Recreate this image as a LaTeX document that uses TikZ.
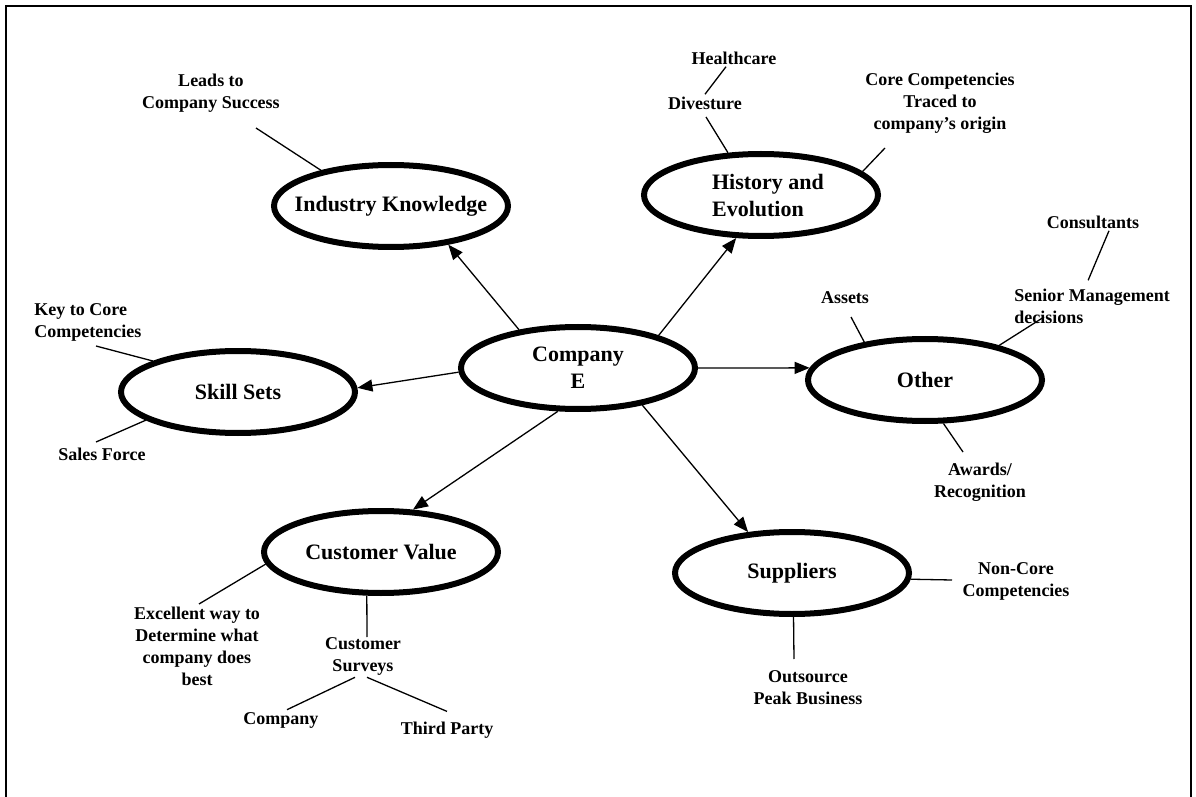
\documentclass[tikz,border=0pt]{standalone}
\usepackage{fontspec}
\setmainfont{Liberation Serif}
\usetikzlibrary{shapes.geometric,arrows.meta}

\begin{document}
\begin{tikzpicture}[x=0.5pt,y=-0.5pt,
        bubble/.style={draw,ellipse,line width=3pt,minimum width=117pt,minimum height=41pt,inner sep=0pt},
        bubtext/.style={font=\fontsize{11}{13.5}\selectfont\bfseries,align=center,inner sep=1pt},
        note/.style={font=\fontsize{9}{11}\selectfont\bfseries,align=center,inner sep=1pt},
        tie/.style={line width=0.65pt},
        link/.style={line width=0.65pt,-{Triangle[length=7.5pt,width=6pt]}}]
        \useasboundingbox (0,0) rectangle (1196,797);
        \draw[line width=1pt] (6,797) -- (6,6) -- (1191,6) -- (1191,797);

        \coordinate (pComp) at (578,368);
        \coordinate (pInd) at (391,206);
        \coordinate (pHist) at (761,195);
        \coordinate (pSkill) at (238,392);
        \coordinate (pOther) at (925,380);
        \coordinate (pCust) at (381,552);
        \coordinate (pSupp) at (792,573);

        \node[bubble] (comp) at (pComp) {};
        \node[bubble] (ind) at (pInd) {};
        \node[bubble] (hist) at (pHist) {};
        \node[bubble] (skill) at (pSkill) {};
        \node[bubble] (other) at (pOther) {};
        \node[bubble] (cust) at (pCust) {};
        \node[bubble] (supp) at (pSupp) {};

        \node[bubtext] (compText) at (pComp) {Company\\E};
        \node[bubtext] (indText) at (pInd) {Industry Knowledge};
        \node[bubtext,align=left] (histText) at (768,196) {History and\\Evolution};
        \node[bubtext] (skillText) at (pSkill) {Skill Sets};
        \node[bubtext] (otherText) at (pOther) {Other};
        \node[bubtext] (custText) at (pCust) {Customer Value};
        \node[bubtext] (suppText) at (pSupp) {Suppliers};

        \node[note] (leads) at (211,93) {Leads to\\Company Success};
        \node[note] (hc) at (734,58) {Healthcare};
        \node[note] (div) at (705,103) {Divesture};
        \node[note] (core) at (940,103) {Core Competencies\\Traced to\\company's origin};
        \node[note] (cons) at (1093,222) {Consultants};
        \node[note,align=left,anchor=west] (sen) at (1012,306) {Senior Management\\decisions};
        \node[note] (assets) at (845,298) {Assets};
        \node[note] (awards) at (980,482) {Awards/\\Recognition};
        \node[note,align=left,anchor=west] (key) at (32,322) {Key to Core\\Competencies};
        \node[note] (sales) at (102,454) {Sales Force};
        \node[note] (excel) at (197,646) {Excellent way to\\Determine what\\company does\\best};
        \node[note] (surv) at (363,656) {Customer\\Surveys};
        \node[note] (co) at (281,720) {Company};
        \node[note] (third) at (447,730) {Third Party};
        \node[note] (noncore) at (1016,581) {Non-Core\\Competencies};
        \node[note] (outs) at (808,688) {Outsource\\Peak Business};

        \coordinate (eLeads) at (256,128);
        \coordinate (eDiv) at (706,117);
        \coordinate (eCore) at (885,148);
        \coordinate (eAssets) at (851,317);
        \coordinate (eSen) at (1044,317);
        \coordinate (eAwards) at (963,452);
        \coordinate (eKey) at (96,346);
        \coordinate (eSales) at (96,442);
        \coordinate (eExcel) at (199,604);
        \coordinate (eSurv) at (367,637);
        \coordinate (eNon) at (952,580);
        \coordinate (eOuts) at (794,659);

        \draw[link] (comp.147) -- (ind.326);
        \draw[link] (comp.22) -- (hist.240);
        \draw[link] (comp.182) -- (skill.2);
        \draw[link] (comp.0) -- (other.174);
        \draw[link] (comp.245) -- (cust.53);
        \draw[link] (comp.-30) -- (supp.137);

        \draw[tie] (ind.153) -- (eLeads);
        \draw[tie] (hist.128) -- (eDiv);
        \draw[tie] (hist.13) -- (eCore);
        \draw[tie] (other.148) -- (eAssets);
        \draw[tie] (other.25) -- (eSen);
        \draw[tie] (other.-67) -- (eAwards);
        \draw[tie] (skill.160) -- (eKey);
        \draw[tie] (skill.197) -- (eSales);
        \draw[tie] (cust.186) -- (eExcel);
        \draw[tie] (cust.-108) -- (eSurv);
        \draw[tie] (supp.-3) -- (eNon);
        \draw[tie] (supp.-88) -- (eOuts);

        \draw[tie] ([xshift=-4pt]hc.south) -- (div.north);
        \draw[tie] ([xshift=8pt]cons.south) -- ([xshift=-2pt,yshift=3pt]sen.north);
        \draw[tie] ([xshift=-4pt]surv.south) -- ([xshift=3pt]co.north);
        \draw[tie] ([xshift=2pt]surv.south) -- ([yshift=4pt]third.north);
    \end{tikzpicture}
\end{document}
